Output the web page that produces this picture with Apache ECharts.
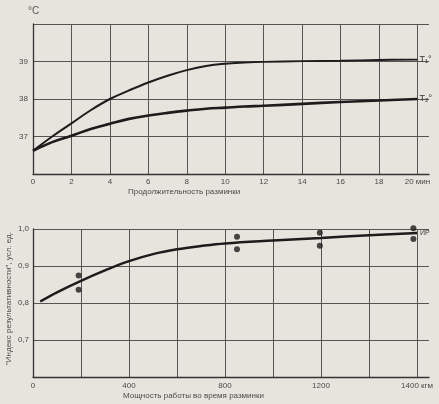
<!DOCTYPE html>
<html><head><meta charset="utf-8">
<script src="https://cdn.jsdelivr.net/npm/echarts@6/dist/echarts.min.js"></script>
<style>html,body{margin:0;padding:0;background:#e6e4dd}#c{width:439px;height:404px}</style>
</head><body><div id="c"></div>
<script>
// Top chart: warm-up duration (min) vs temperature (°C)
const durationMin = [0, 1, 2, 3, 4, 5, 6, 7, 8, 9, 10, 11, 12, 14, 16, 18, 20];
const t1Values = [36.62, 37.0, 37.35, 37.7, 38.0, 38.23, 38.44, 38.62, 38.77, 38.88, 38.94, 38.97, 38.99, 39.01, 39.02, 39.04, 39.05];
const t2Values = [36.62, 36.85, 37.02, 37.2, 37.34, 37.47, 37.56, 37.63, 37.69, 37.74, 37.77, 37.8, 37.82, 37.87, 37.92, 37.96, 38.0];
const topYTicks = [37, 38, 39];
// Bottom chart: work power (axis units as drawn) vs performance index
const powerCurveX = [30, 100, 200, 300, 400, 500, 600, 700, 800, 1000, 1200, 1400, 1600];
const indexCurveY = [0.804, 0.829, 0.86, 0.888, 0.913, 0.932, 0.945, 0.954, 0.961, 0.969, 0.976, 0.983, 0.989];
const pointsX = [190, 190, 850, 850, 1195, 1195, 1585, 1585];
const pointsY = [0.874, 0.836, 0.979, 0.945, 0.99, 0.955, 1.002, 0.973];
const bottomTickPos = [0, 400, 800, 1200, 1600];
const bottomTickText = ['0', '400', '800', '1200', '1400 кгм'];
const bottomYTicks = [0.7, 0.8, 0.9, 1.0];

const FONT = 'Liberation Sans';
const txt = '#4a4a4a';
const gridCol = '#555';
const ink = '#1c1c1c';

const chart = echarts.init(document.getElementById('c'));
chart.setOption({
  backgroundColor: '#e6e4dd',
  animation: false,
  textStyle: {fontFamily: FONT},
  grid: [
    {left: 33, top: 24, width: 396, height: 150},
    {left: 33, top: 229, width: 396, height: 148}
  ],
  xAxis: [
    {gridIndex: 0, type: 'value', min: 0, max: 20.6, interval: 2,
     axisLine: {show: true, lineStyle: {color: '#333', width: 1.3}},
     axisTick: {show: false},
     axisLabel: {color: txt, fontSize: 8, margin: 4,
       formatter: v => (Math.abs(v - Math.round(v)) < 1e-6 && v % 2 === 0) ? (v === 20 ? '20 мин' : String(v)) : ''},
     splitLine: {show: true, showMaxLine: false, lineStyle: {color: gridCol, width: 1}}},
    {gridIndex: 1, type: 'value', min: 0, max: 1650, interval: 200,
     axisLine: {show: true, lineStyle: {color: '#333', width: 1.3}},
     axisTick: {show: false},
     axisLabel: {color: txt, fontSize: 8, margin: 5,
       formatter: v => { const i = bottomTickPos.indexOf(v); return i >= 0 ? bottomTickText[i] : ''; }},
     splitLine: {show: true, showMaxLine: false, lineStyle: {color: gridCol, width: 1}}}
  ],
  yAxis: [
    {gridIndex: 0, type: 'value', min: 36, max: 40, interval: 1,
     axisLine: {show: true, lineStyle: {color: '#333', width: 1.3}},
     axisTick: {show: false},
     axisLabel: {color: txt, fontSize: 8, margin: 5,
       formatter: v => topYTicks.indexOf(v) >= 0 ? String(v) : ''},
     splitLine: {show: true, showMinLine: false, lineStyle: {color: gridCol, width: 1}}},
    {gridIndex: 1, type: 'value', min: 0.6, max: 1.0, interval: 0.1,
     axisLine: {show: true, lineStyle: {color: '#333', width: 1.3}},
     axisTick: {show: false},
     axisLabel: {color: txt, fontSize: 8, margin: 4,
       formatter: v => bottomYTicks.some(t => Math.abs(t - v) < 1e-6) ? v.toFixed(1).replace('.', ',') : ''},
     splitLine: {show: true, showMinLine: false, lineStyle: {color: gridCol, width: 1}}}
  ],
  series: [
    {type: 'line', xAxisIndex: 0, yAxisIndex: 0, smooth: 0.4, symbol: 'none',
     data: durationMin.map((x, i) => [x, t1Values[i]]),
     lineStyle: {color: ink, width: 2},
     endLabel: {show: true, formatter: 'T₁°', color: '#333', fontSize: 9, distance: 2}},
    {type: 'line', xAxisIndex: 0, yAxisIndex: 0, smooth: 0.4, symbol: 'none',
     data: durationMin.map((x, i) => [x, t2Values[i]]),
     lineStyle: {color: ink, width: 2.6},
     endLabel: {show: true, formatter: 'T₂°', color: '#333', fontSize: 9, distance: 2}},
    {type: 'line', xAxisIndex: 1, yAxisIndex: 1, smooth: 0.4, symbol: 'none',
     data: powerCurveX.map((x, i) => [x, indexCurveY[i]]),
     lineStyle: {color: ink, width: 2.5},
     endLabel: {show: true, formatter: 'ИР', color: '#444', fontSize: 7, distance: 3}},
    {type: 'scatter', xAxisIndex: 1, yAxisIndex: 1, symbolSize: 6, clip: false,
     data: pointsX.map((x, i) => [x, pointsY[i]]),
     itemStyle: {color: ink}}
  ],
  graphic: [
    {type: 'text', left: 28, top: 6, style: {text: '°С', font: '10px ' + FONT, fill: '#555'}},
    {type: 'text', left: 128, top: 188, style: {text: 'Продолжительность разминки', font: '8px ' + FONT, fill: txt}},
    {type: 'text', left: 123, top: 392, style: {text: 'Мощность работы во время разминки', font: '8px ' + FONT, fill: txt}},
    {type: 'text', x: 5, y: 365, rotation: Math.PI / 2, style: {text: '"Индекс результативности", усл. ед.', font: '8px ' + FONT, fill: txt}}
  ]
});
</script></body></html>
